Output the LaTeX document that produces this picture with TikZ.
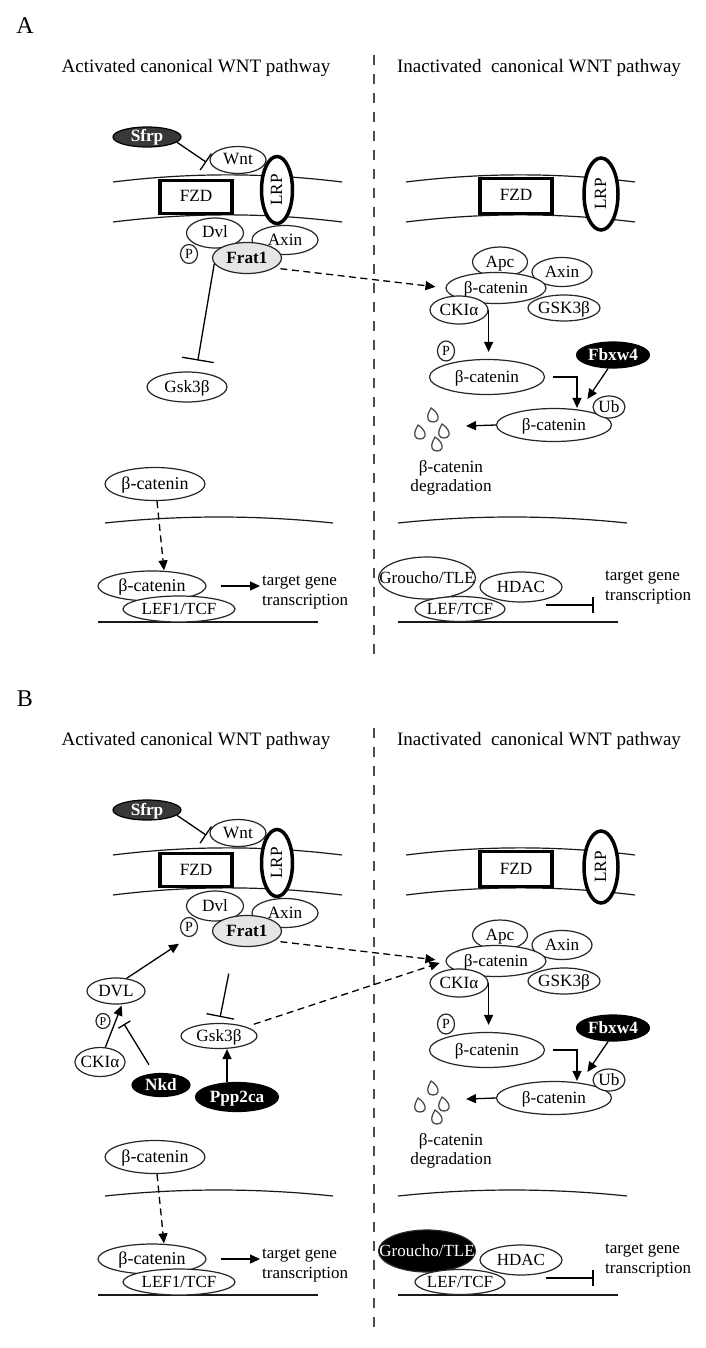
\documentclass[tikz,border=0pt]{standalone}
\usepackage{fontspec}
\setmainfont{Liberation Serif}
\usetikzlibrary{shapes.geometric,arrows.meta,calc}
\newcommand\zw[1]{\makebox[0pt]{#1}}
\newcommand\lblfont{\fontsize{17.2}{19.5}\selectfont}
\tikzset{
 prot/.style={ellipse, draw=black!85, line width=1.2pt, fill=white, inner sep=0pt, text height=10pt, text depth=0pt, font=\lblfont},
 darkprot/.style={prot, fill=black, draw=black, text=white, font=\lblfont\bfseries},
 thickbox/.style={draw=black, line width=3.5pt, fill=white, inner sep=0pt, text height=10pt, text depth=0pt, font=\lblfont},
 memb/.style={line width=1.2pt, black!90},
 arr/.style={line width=1.3pt, -{Triangle[length=10pt,width=9pt]}},
 darr/.style={arr, dash pattern=on 7pt off 4.5pt},
 inh/.style={line width=1.3pt, -{Bar[width=#1,line width=1.3pt]}},
 inh/.default=16pt,
 divider/.style={line width=2pt, black!70, dash pattern=on 10pt off 9pt},
 ttl/.style={font=\fontsize{19}{22}\selectfont},
 note/.style={font=\fontsize{17}{20}\selectfont, align=left, anchor=west, inner sep=0pt},
 drop/.style={line width=1.3pt, draw=black!70, fill=white},
}
\newcommand\wntpanel[3]{%
 \node[font=\fontsize{24}{24}\selectfont] (#1-letter) at (25,26) {#3};
 \node[ttl] (#1-t1) at (196,68) {Activated canonical WNT pathway};
 \node[ttl] (#1-t2) at (539,68) {Inactivated\ \ canonical WNT pathway};
 \draw[divider] (374,55) -- (374,655);
 % membranes
 \draw[memb] (113,182) .. controls (190,172.5) and (265,172.5) .. (342,182);
 \draw[memb] (113,222) .. controls (190,212.5) and (265,212.5) .. (342,222);
 \draw[memb] (406,182) .. controls (483,172.5) and (558,172.5) .. (635,182);
 \draw[memb] (406,222) .. controls (483,212.5) and (558,212.5) .. (635,222);
 % left receptor complex
 \node[prot, fill=black!78, draw=black, text=white, font=\lblfont\bfseries, minimum width=68pt, minimum height=20pt] (#1-sfrp) at (147,137) {\zw{Sfrp}};
 \node[prot, minimum width=56pt, minimum height=27pt] (#1-wnt) at (238,160) {\zw{Wnt}};
 \node[prot, rotate=90, draw=black, line width=3.5pt, minimum width=67pt, minimum height=31pt] (#1-lrp) at (277,190) {\zw{LRP}};
 \node[thickbox, minimum width=72pt, minimum height=33pt] (#1-fzd) at (196,197) {\zw{FZD}};
 \node[prot, minimum width=17pt, minimum height=19pt, font=\fontsize{14}{14}\selectfont, text height=9pt] (#1-p) at (189,254) {\zw{P}};
 \node[prot, minimum width=57pt, minimum height=30pt] (#1-dvl) at (215,233) {\zw{Dvl}};
 \node[prot, minimum width=66pt, minimum height=29pt] (#1-axl) at (285,240) {\zw{Axin}};
 \node[prot, fill=black!10, font=\lblfont\bfseries, minimum width=69pt, minimum height=31pt] (#1-frat) at (247,258) {\zw{Frat1}};
 \draw[inh=20pt, shorten >=8pt] (#1-sfrp.-10) -- (#1-wnt.195);
 % right receptor
 \node[prot, rotate=90, draw=black, line width=3.5pt, minimum width=72pt, minimum height=34pt] (#1-lrpr) at (601,194) {\zw{LRP}};
 \node[thickbox, minimum width=72pt, minimum height=35pt] (#1-fzdr) at (516,196) {\zw{FZD}};
 % destruction complex
 \node[prot, minimum width=55pt, minimum height=30pt] (#1-apc) at (500,262) {\zw{Apc}};
 \node[prot, minimum width=60pt, minimum height=29pt] (#1-axr) at (562,272) {\zw{Axin}};
 \node[prot, minimum width=72pt, minimum height=26pt] (#1-gskr) at (564,308) {\zw{GSK3β}};
 \node[prot, minimum width=100pt, minimum height=31pt] (#1-bcx) at (496,288) {\zw{β-catenin}};
 \node[prot, minimum width=58pt, minimum height=28pt] (#1-ckr) at (459,310) {\zw{CKIα}};
 \node[prot, minimum width=115pt, minimum height=35pt] (#1-bc2) at (487,377) {\zw{β-catenin}};
 \node[prot, minimum width=17pt, minimum height=20pt, font=\fontsize{14}{14}\selectfont, text height=9pt] (#1-pr) at (446,351) {\zw{P}};
 \node[darkprot, minimum width=73pt, minimum height=26pt] (#1-fbx) at (613,355) {\zw{Fbxw4}};
 \node[prot, minimum width=115pt, minimum height=33pt] (#1-bc3) at (554,425) {\zw{β-catenin}};
 \node[prot, minimum width=32pt, minimum height=22pt] (#1-ub) at (609,407) {\zw{Ub}};
 \coordinate (#1-deg) at (466,426);
 \foreach \q in {(433,415),(420,432),(444,431),(437,444)}{
   \draw[drop, shift={\q}] (-2,-7) .. controls (3,-4) and (6,1) .. (5,4) .. controls (4,8) and (-4,8) .. (-5,4) .. controls (-6,0) and (-4,-3) .. cycle;
 }
 \node[font=\lblfont, align=center, inner sep=0pt] (#1-degtxt) at (451,478) {β-catenin\\degradation};
 \draw[darr, shorten <=6pt, shorten >=10pt] (#1-frat.-20) -- (#1-bcx.west);
 \draw[arr, shorten >=7pt] (#1-ckr.east) -- (#1-ckr.east |- #1-bc2.north);
 \draw[arr, shorten <=8pt] (#1-bc2.east) -| ([xshift=23pt]#1-bc3.north);
 \draw[arr] (#1-fbx.250) -- ([shift={(-5pt,8pt)}]#1-ub.west);
 \draw[arr] (#1-bc3.west) -- (#1-deg);
 % nucleus left
 \node[prot, minimum width=100pt, minimum height=33pt, font=\fontsize{18}{20}\selectfont] (#1-bcc) at (155,484) {\zw{β-catenin}};
 \draw[memb] (105,523) .. controls (181,515) and (257,515) .. (333,523);
 \draw[memb] (98,622) -- (318,622);
 \node[prot, minimum width=108pt, minimum height=30pt, font=\fontsize{18}{20}\selectfont] (#1-bcn) at (152,586) {\zw{β-catenin}};
 \node[prot, minimum width=112pt, minimum height=26pt, font=\fontsize{17}{20}\selectfont] (#1-lef) at (179,609) {\zw{LEF1/TCF}};
 \node[note] (#1-tgl) at (262,593) {target gene\\transcription};
 \draw[darr] ([xshift=2pt]#1-bcc.south) -- ([xshift=12pt]#1-bcn.north);
 \draw[arr, shorten <=14pt, shorten >=2pt] (#1-bcn.east) -- (#1-bcn.east -| #1-tgl.west);
 % nucleus right
 \draw[memb] (398,523) .. controls (474,515) and (550,515) .. (627,523);
 \draw[memb] (398,622) -- (618,622);
 \node[prot, #2, minimum width=97pt, minimum height=42pt, font=\fontsize{17}{20}\selectfont] (#1-gro) at (427,578) {\zw{Groucho/TLE}};
 \node[prot, minimum width=82pt, minimum height=30pt, font=\fontsize{17}{20}\selectfont] (#1-hdac) at (521,587) {\zw{HDAC}};
 \node[prot, minimum width=90pt, minimum height=25pt, font=\fontsize{17}{20}\selectfont] (#1-lefr) at (460,609) {\zw{LEF/TCF}};
 \node[note] (#1-tgr) at (605,588) {target gene\\transcription};
 \draw[inh=16pt] ([shift={(-17pt,-18pt)}]#1-hdac.east) -- ++(48pt,0);
}
\begin{document}
\begin{tikzpicture}[x=1pt,y=-1pt]
\useasboundingbox (0,0) rectangle (705,1348);
\fill[white] (0,0) rectangle (705,1348);
% ---------- Panel A ----------
\wntpanel{a}{fill=white}{A}
\node[prot, minimum width=80pt, minimum height=30pt] (a-gsk) at (187,387) {\zw{Gsk3β}};
\draw[inh=32pt, shorten >=11pt] (a-frat.190) -- ([xshift=9pt]a-gsk.north);
% ---------- Panel B ----------
\begin{scope}[yshift=-673pt]
\wntpanel{b}{fill=black, text=white}{B}
\end{scope}
\node[prot, minimum width=58pt, minimum height=26pt] (b-dvlc) at (116,991) {\zw{DVL}};
\node[prot, minimum width=14pt, minimum height=15pt, font=\fontsize{12}{12}\selectfont, text height=8pt] (b-p2) at (103,1021) {\zw{P}};
\node[prot, minimum width=50pt, minimum height=29pt] (b-cka) at (100,1062) {\zw{CKIα}};
\node[darkprot, minimum width=58pt, minimum height=23pt] (b-nkd) at (161,1085) {\zw{Nkd}};
\node[prot, minimum width=76pt, minimum height=25pt] (b-gsk) at (219,1036) {\zw{Gsk3β}};
\node[darkprot, minimum width=83pt, minimum height=29pt] (b-ppp) at (237,1097) {\zw{Ppp2ca}};
\coordinate (b-cut) at (124,1024);
\draw[arr, shorten >=12pt] (b-dvlc.50) -- (b-p.south);
\draw[arr, shorten >=1pt] (b-cka.70) -- ([xshift=6pt]b-dvlc.south);
\draw[inh=14pt, shorten <=10pt] (b-nkd.120) -- (b-cut);
\draw[inh=28pt, shorten <=27pt, shorten >=6pt] ([xshift=-13pt]b-frat.south) -- (b-gsk.north);
\draw[arr] ([xshift=-10pt]b-ppp.north) -- ([xshift=8pt]b-gsk.south);
\draw[darr, shorten <=8pt, shorten >=6pt] (b-gsk.north east) -- (b-bcx.west);
\end{tikzpicture}
\end{document}
